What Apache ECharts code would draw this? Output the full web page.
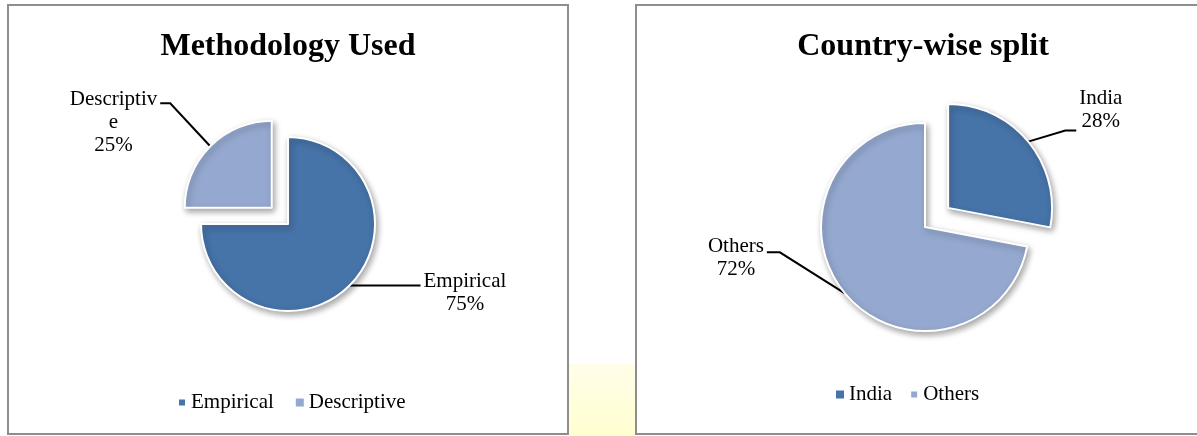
<!DOCTYPE html>
<html>
<head>
<meta charset="utf-8">
<script src="https://cdn.jsdelivr.net/npm/echarts@6/dist/echarts.min.js"></script>
<style>
  body { margin: 0; width: 1197px; height: 436px; overflow: hidden; background: #fff; position: relative; }
  .panel { position: absolute; top: 4px; height: 431px; border: 2px solid #8e8e8e; box-sizing: border-box; background: #fff; }
  .panel .chart { width: 100%; height: 100%; }
  #left { left: 7px; width: 562px; }
  #right { left: 635px; width: 576px; }
  .gap { position: absolute; left: 569px; width: 66px; top: 364px; height: 72px; background: linear-gradient(#fffde8, #ffffd0); }
</style>
</head>
<body>
<div class="gap"></div>
<div id="left" class="panel"><div class="chart" id="chartLeft"></div></div>
<div id="right" class="panel"><div class="chart" id="chartRight"></div></div>
<script>
// data
const methodNames = ['Empirical', 'Descriptive']
const methodValues = [75, 25]
const countryNames = ['India', 'Others']
const countryValues = [28, 72]

const darkBlue = '#4673a8'
const lightBlue = '#95a9d0'
const serif = '"Liberation Serif", "Times New Roman", serif'

// wrap long names like the original (10 chars per line)
function wrapName(name) {
  return name.match(/.{1,10}/g).join('\n')
}

// one pie layer: only the slices in `visible` are drawn, the rest are empty space
function pieLayer(cfg, center, visible) {
  return {
    type: 'pie',
    center: center,
    radius: cfg.radius,
    startAngle: 90,
    silent: true,
    emphasis: { disabled: true },
    labelLine: { show: true, lineStyle: { color: '#000', width: 2 } },
    label: {
      show: true,
      position: 'outside',
      fontFamily: serif,
      fontSize: 21,
      lineHeight: 23,
      color: '#000',
      formatter: function (p) {
        return wrapName(p.name) + '\n' + Math.round(p.percent) + '%'
      }
    },
    labelLayout: function (p) {
      // hidden slices have no label line
      if (!p.labelLinePoints || !visible(cfg.names[p.dataIndex])) return {}
      const g = cfg.guides[p.dataIndex]
      const p0 = p.labelLinePoints[0]
      const p1 = [p0[0] + g.elbow[0], p0[1] + g.elbow[1]]
      const p2 = [p1[0] + g.tail, p1[1]]
      const w = p.labelRect.width
      return {
        x: g.tail < 0 ? p2[0] - 3 - w / 2 : p2[0] + 3 + w / 2,
        y: p2[1] + g.textDy,
        align: 'center',
        verticalAlign: 'top',
        labelLinePoints: [p0, p1, p2]
      }
    },
    data: cfg.names.map((n, i) => {
      const on = visible(n)
      return {
        name: n,
        value: cfg.values[i],
        itemStyle: on ? {
          color: cfg.colors[i],
          borderColor: '#fff',
          borderWidth: 2,
          shadowBlur: 6,
          shadowOffsetX: 2,
          shadowOffsetY: 3,
          shadowColor: 'rgba(0,0,0,0.35)'
        } : { color: 'rgba(0,0,0,0)', borderWidth: 0 },
        label: { show: on },
        labelLine: { show: on }
      }
    })
  }
}

function buildOption(cfg) {
  // centre of the pulled-out slice, moved along its middle angle
  const total = cfg.values.reduce((a, b) => a + b, 0)
  const k = cfg.names.indexOf(cfg.explode)
  const before = cfg.values.slice(0, k).reduce((a, b) => a + b, 0)
  const mid = (before + cfg.values[k] / 2) / total * Math.PI * 2
  const moved = [cfg.center[0] + Math.sin(mid) * cfg.offset, cfg.center[1] - Math.cos(mid) * cfg.offset]

  return {
    animation: false,
    title: {
      text: cfg.title,
      left: 'center',
      top: 20,
      textStyle: { fontFamily: serif, fontSize: 32, fontWeight: 'bold', color: '#000' }
    },
    legend: {
      data: cfg.names.map((n, i) => ({ name: n, itemStyle: { color: cfg.colors[i] } })),
      left: cfg.legendLeft,
      top: cfg.legendTop,
      padding: 0,
      icon: 'rect',
      itemWidth: 8,
      itemHeight: 8,
      itemGap: cfg.legendGap,
      selectedMode: false,
      textStyle: { fontFamily: serif, fontSize: 21, color: '#000' }
    },
    series: [
      pieLayer(cfg, cfg.center, n => n !== cfg.explode),
      pieLayer(cfg, moved, n => n === cfg.explode)
    ]
  }
}

const leftChart = echarts.init(document.getElementById('chartLeft'))
leftChart.setOption(buildOption({
  title: 'Methodology Used',
  names: methodNames,
  values: methodValues,
  colors: [darkBlue, lightBlue],
  explode: 'Descriptive',
  center: [279, 218],
  radius: 87,
  offset: 23,
  legendLeft: 168,
  legendTop: 386,
  legendGap: 22,
  guides: [
    { elbow: [0, 0], tail: 71, textDy: -16 },
    { elbow: [-40, -43], tail: -10, textDy: -15 }
  ]
}))

const rightChart = echarts.init(document.getElementById('chartRight'))
rightChart.setOption(buildOption({
  title: 'Country-wise split',
  names: countryNames,
  values: countryValues,
  colors: [darkBlue, lightBlue],
  explode: 'India',
  center: [288, 221],
  radius: 104,
  offset: 30,
  legendLeft: 199,
  legendTop: 378,
  legendGap: 17,
  guides: [
    { elbow: [37, -11], tail: 11, textDy: -44 },
    { elbow: [-65, -41], tail: -13, textDy: -17 }
  ]
}))
</script>
</body>
</html>
